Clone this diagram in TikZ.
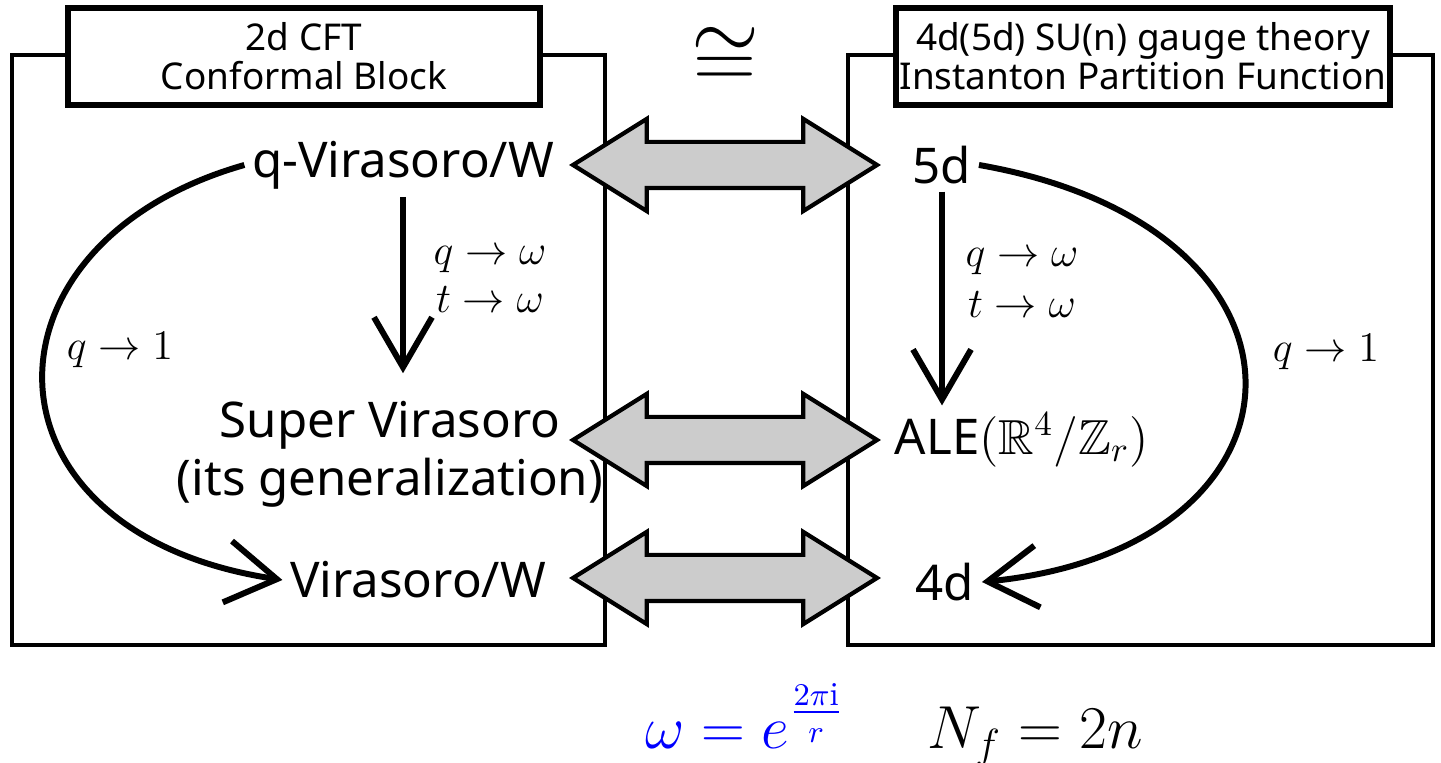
\documentclass[tikz,border=0pt]{standalone}
\usepackage{amsmath}
\usepackage{amssymb}
\usepackage{fontspec}
\setsansfont{Noto Sans}
\usepackage{tikz}
\usetikzlibrary{arrows.meta, shapes.arrows, positioning}
\definecolor{mygray}{RGB}{204,204,204}
\definecolor{myblue}{RGB}{0,0,255}
\tikzset{
  frame/.style={draw, line width=1.2pt},
  titlebox/.style={rectangle, draw, fill=white, line width=1.8pt,
    minimum width=4.72cm, minimum height=0.97cm, align=center,
    inner sep=1pt, font=\sffamily\fontsize{10.5}{11}\selectfont},
  term/.style={align=center, inner sep=2pt,
    font=\sffamily\fontsize{14}{16.5}\selectfont},
  maplabel/.style={font=\fontsize{12}{14}\selectfont},
  biarrow/.style={double arrow, draw, fill=mygray, line width=1.2pt,
    minimum height=3.04cm, minimum width=0.88cm, inner xsep=0pt,
    inner ysep=0.21cm, double arrow head extend=0.23cm,
    double arrow tip angle=64},
  limarrow/.style={-{Straight Barb[length=0.5cm, width=0.62cm]}, line width=1.7pt},
  downarrow/.style={-{Straight Barb[length=0.5cm, width=0.58cm]}, line width=1.7pt}
}

\begin{document}
\begin{tikzpicture}
  \useasboundingbox (0,0) rectangle (14.41,7.63);

  % Frames
  \draw[frame] (0.12,1.18) rectangle (6.05,7.08);
  \draw[frame] (8.48,1.18) rectangle (14.33,7.08);

  % Titles
  \node[titlebox] (cft) at (3.04,7.065) {2d CFT\\Conformal Block};
  \node[titlebox] (gauge) at (11.43,7.065) {4d(5d) SU(n) gauge theory\\Instanton Partition Function};
  \node[inner sep=0pt, font=\fontsize{25}{25}\selectfont] (iso) at (7.25,7.05) {$\cong$};

  % CFT side
  \node[term] (qvir) at (4.03,5.98) {q-Virasoro/W};
  \node[term] (svir) at (3.9,3.09) {Super Virasoro\\(its generalization)};
  \node[term] (vir) at (4.18,1.83) {Virasoro/W};

  % Gauge theory side
  \node[term] (d5) at (9.42,5.98) {5d};
  \node[term] (ale) at (10.22,3.23) {ALE$(\mathbb{R}^4/\mathbb{Z}_r)$};
  \node[term] (d4) at (9.45,1.81) {4d};

  % Correspondences
  \node[biarrow] (eqtop) at (7.25,5.98) {};
  \node[biarrow] (eqmid) at (7.25,3.23) {};
  \node[biarrow] (eqbot) at (7.25,1.85) {};

  % Limits
  \draw[downarrow, shorten >=2mm] (qvir.south) -- (qvir.south |- svir.north);
  \draw[downarrow] (d5.south) -- (d5.south |- ale.north);
  \draw[limarrow] (qvir.west) .. controls (-0.3,5.2) and (-0.3,2.3) .. (vir.west);
  \draw[limarrow] (d5.east) .. controls (13.4,5.35) and (13.25,2.15) .. (d4.east);

  \node[maplabel] (qw1) at (4.9,5.03) {$q \to \omega$};
  \node[maplabel] (tw1) at (4.9,4.63) {$t \to \omega$};
  \node[maplabel] (qw2) at (10.22,5.01) {$q \to \omega$};
  \node[maplabel] (tw2) at (10.22,4.58) {$t \to \omega$};
  \node[maplabel] (qone1) at (1.2,4.13) {$q \to 1$};
  \node[maplabel] (qone2) at (13.26,4.11) {$q \to 1$};

  % Parameters
  \node[anchor=base, text=myblue, font=\fontsize{19}{21}\selectfont] (omega) at (7.45,0.14) {$\omega = e^{\frac{2\pi\mathrm{i}}{r}}$};
  \node[anchor=base, font=\fontsize{18}{20}\selectfont] (nf) at (10.35,0.14) {$N_f = 2n$};
\end{tikzpicture}
\end{document}
